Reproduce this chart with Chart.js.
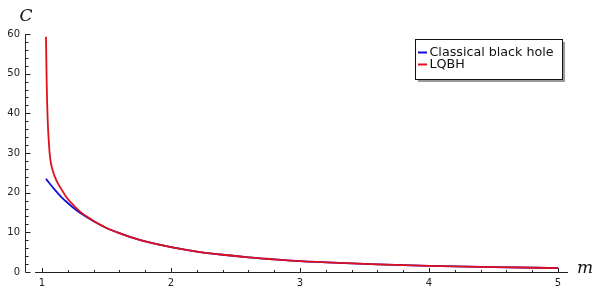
<!DOCTYPE html>
<html>
<head>
<meta charset="utf-8">
<script src="https://cdn.jsdelivr.net/npm/chart.js@4/dist/chart.umd.min.js"></script>
<style>
  html, body { margin: 0; padding: 0; background: #fff; }
  #wrap { width: 600px; height: 295px; }
</style>
</head>
<body>
<div id="wrap"><canvas id="c" width="600" height="295"></canvas></div>
<script>
// ---- data ----
const classicalM = [1.031, 1.05, 1.1, 1.15, 1.2, 1.25, 1.3, 1.4, 1.5, 1.6, 1.7, 1.8, 2.0, 2.2, 2.4, 2.6, 2.8, 3.0, 3.3, 3.6, 4.0, 4.5, 5.0];
const classicalC = [23.5, 22.7, 20.7, 18.9, 17.4, 16.0, 14.8, 12.8, 11.1, 9.8, 8.65, 7.7, 6.25, 5.15, 4.35, 3.7, 3.2, 2.75, 2.28, 1.92, 1.55, 1.23, 1.0];

const lqbhM = [1.031, 1.033, 1.036, 1.04, 1.045, 1.05, 1.056, 1.062, 1.07, 1.085, 1.1, 1.124, 1.15, 1.188, 1.25, 1.3, 1.35, 1.4, 1.5, 1.6, 1.7, 1.8, 2.0, 2.2, 2.4, 2.6, 2.8, 3.0, 3.3, 3.6, 4.0, 4.5, 5.0];
const lqbhC = [59.3, 54.5, 48.2, 42.5, 37.5, 34.3, 31.3, 29.0, 27.3, 25.4, 24.0, 22.3, 20.9, 18.9, 16.6, 15.1, 13.9, 12.85, 11.1, 9.8, 8.65, 7.7, 6.25, 5.15, 4.35, 3.7, 3.2, 2.75, 2.28, 1.92, 1.55, 1.23, 1.0];

const seriesLabels = ['Classical black hole', 'LQBH'];
const xTicks = [1, 2, 3, 4, 5];
const yTicks = [0, 10, 20, 30, 40, 50, 60];
const xMinorStep = 0.2;
const yMinorStep = 2;

const toPoints = (xs, ys) => xs.map((x, i) => ({ x: x, y: ys[i] }));

const axesPlugin = {
  id: 'sageAxes',
  afterDraw(chart) {
    const ctx = chart.ctx;
    const xs = chart.scales.x, ys = chart.scales.y;
    const yAxisX = 25.5;
    const xAxisY = ys.getPixelForValue(0) + 0.5;
    ctx.save();
    ctx.strokeStyle = '#222';
    ctx.lineWidth = 1;
    ctx.beginPath();
    ctx.moveTo(yAxisX, ys.getPixelForValue(60));
    ctx.lineTo(yAxisX, xAxisY);
    ctx.moveTo(xs.getPixelForValue(0.946), xAxisY);
    ctx.lineTo(xs.getPixelForValue(5.078), xAxisY);
    for (let v = 0; v <= 60 + 1e-9; v += yMinorStep) {
      const py = Math.round(ys.getPixelForValue(v)) + 0.5;
      const major = Math.abs(v % 10) < 1e-6;
      ctx.moveTo(yAxisX, py);
      ctx.lineTo(yAxisX + (major ? 5 : 3), py);
    }
    for (let v = 1; v <= 5 + 1e-9; v += xMinorStep) {
      const px = Math.round(xs.getPixelForValue(v)) + 0.5;
      const major = Math.abs(v - Math.round(v)) < 1e-6;
      ctx.moveTo(px, xAxisY);
      ctx.lineTo(px, xAxisY - (major ? 4.5 : 2.5));
    }
    ctx.stroke();

    ctx.fillStyle = '#111';
    ctx.font = 'italic 17px "DejaVu Serif"';
    ctx.textAlign = 'center';
    ctx.textBaseline = 'alphabetic';
    ctx.fillText('C', 26, 21);
    ctx.fillText('m', 585, 273);
    ctx.restore();
  }
};

const legendPlugin = {
  id: 'boxLegend',
  afterDraw(chart) {
    const ctx = chart.ctx;
    const x = 415, y = 39, w = 147, h = 40;
    ctx.save();
    ctx.fillStyle = '#9a9a9a';
    ctx.fillRect(x + 3, y + 3, w, h);
    ctx.fillStyle = '#fff';
    ctx.fillRect(x, y, w, h);
    ctx.strokeStyle = '#111';
    ctx.lineWidth = 1;
    ctx.strokeRect(x + 0.5, y + 0.5, w, h);
    ctx.font = '12.7px "DejaVu Sans"';
    ctx.textAlign = 'left';
    ctx.textBaseline = 'middle';
    chart.data.datasets.forEach((ds, i) => {
      const ry = 52.5 + i * 12;
      ctx.strokeStyle = ds.borderColor;
      ctx.lineWidth = 2;
      ctx.beginPath();
      ctx.moveTo(418, ry);
      ctx.lineTo(427, ry);
      ctx.stroke();
      ctx.fillStyle = '#111';
      ctx.fillText(ds.label, 429.5, ry + 0.5);
    });
    ctx.restore();
  }
};

new Chart(document.getElementById('c'), {
  type: 'line',
  data: {
    datasets: [
      {
        label: seriesLabels[0],
        data: toPoints(classicalM, classicalC),
        borderColor: '#1010d8',
        borderWidth: 1.8,
        pointRadius: 0,
        fill: false,
        cubicInterpolationMode: 'monotone',
        order: 2
      },
      {
        label: seriesLabels[1],
        data: toPoints(lqbhM, lqbhC),
        borderColor: '#e0101c',
        borderWidth: 1.8,
        pointRadius: 0,
        fill: false,
        cubicInterpolationMode: 'monotone',
        order: 1
      }
    ]
  },
  options: {
    responsive: false,
    animation: false,
    devicePixelRatio: 1,
    layout: { padding: { top: 34, right: 32, left: 0, bottom: 0 } },
    plugins: { legend: { display: false }, tooltip: { enabled: false } },
    scales: {
      x: {
        type: 'linear',
        min: 0.8682,
        max: 5.0775,
        grid: { display: false, drawTicks: false },
        border: { display: false },
        afterFit(s) { s.height = 23; },
        afterBuildTicks(s) { s.ticks = xTicks.map(v => ({ value: v })); },
        ticks: { font: { family: 'DejaVu Sans', size: 10 }, color: '#222', padding: 5, maxRotation: 0 }
      },
      y: {
        type: 'linear',
        min: 0,
        max: 60,
        grid: { display: false, drawTicks: false },
        border: { display: false },
        afterFit(s) { s.width = 25; },
        afterBuildTicks(s) { s.ticks = yTicks.map(v => ({ value: v })); },
        ticks: { font: { family: 'DejaVu Sans', size: 10 }, color: '#222', padding: 5 }
      }
    }
  },
  plugins: [axesPlugin, legendPlugin]
});
</script>
</body>
</html>
